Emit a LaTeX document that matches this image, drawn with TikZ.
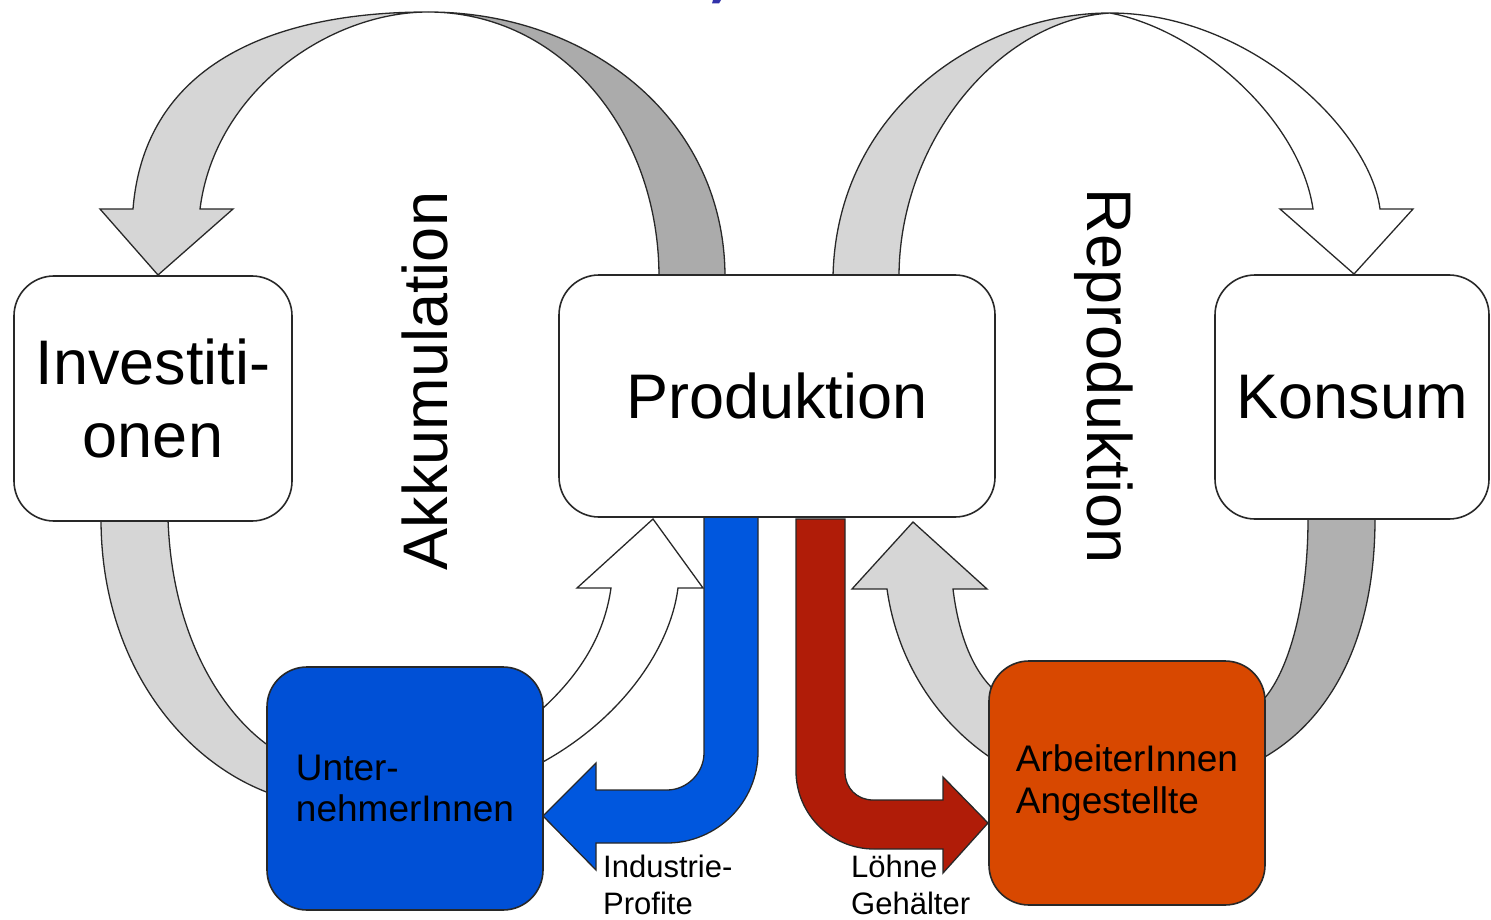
\documentclass[tikz,border=0pt]{standalone}
\usepackage{fontspec}
\setmainfont{Liberation Sans}
\usepackage{tikz}
\usepackage{xcolor}
\definecolor{bandlight}{RGB}{214,214,214}
\definecolor{banddark}{RGB}{171,171,171}
\definecolor{bandmid}{RGB}{176,176,176}
\definecolor{profitblue}{RGB}{0,87,222}
\definecolor{ownerblue}{RGB}{0,80,214}
\definecolor{wagered}{RGB}{176,28,8}
\definecolor{workerorange}{RGB}{216,72,0}
\definecolor{titleblue}{RGB}{50,50,170}
\definecolor{edgegray}{RGB}{40,40,40}
\newcommand{\labelbig}{\fontsize{63}{73}\selectfont}
\newcommand{\labelmid}{\fontsize{37}{41.5}\selectfont}
\newcommand{\labelsmall}{\fontsize{31}{37}\selectfont}

\begin{document}
\begin{tikzpicture}[x=1pt, y=-1pt,
    box/.style={draw=edgegray, line width=1.6, rounded corners=40, inner sep=0, minimum width=276, minimum height=244},
    band/.style={draw=edgegray, line width=1.3, line join=miter}]
  \useasboundingbox (0,0) rectangle (1491,920);
  \fill[titleblue] (713,0) -- (721,0) -- (719,3.5) -- (712,3.5) -- cycle;

  % accumulation loop
  \coordinate (akktop) at (428,12);
  \filldraw[band, fill=banddark] (659,277) .. controls (659,130) and (560,12) .. (akktop)
    .. controls (590,12) and (725,120) .. (725,277) -- cycle;
  \filldraw[band, fill=bandlight] (akktop) .. controls (280,12) and (145,60) .. (133,209)
    -- (100,209) -- (158,275) -- (233,209) -- (200,209)
    .. controls (215,90) and (330,12) .. (akktop) -- cycle;
  \filldraw[band, fill=bandlight] (101,519) .. controls (101,660) and (180,760) .. (269,793)
    -- (269,746) .. controls (225,715) and (172,640) .. (168,519) -- cycle;
  \filldraw[band, fill=white] (541,763) .. controls (620,720) and (670,650) .. (678,588)
    -- (703,588) -- (653,519) -- (577,588) -- (611,588)
    .. controls (605,630) and (585,670) .. (541,710) -- cycle;

  % reproduction loop
  \coordinate (reptop) at (1110,13);
  \filldraw[band, fill=bandlight] (833,277) .. controls (836,110) and (980,13) .. (reptop)
    .. controls (1000,20) and (899,140) .. (899,277) -- cycle;
  \filldraw[band, fill=white] (reptop) .. controls (1250,13) and (1370,130) .. (1380,209)
    -- (1413,209) -- (1354,274) -- (1280,209) -- (1313,209)
    .. controls (1300,120) and (1200,30) .. (reptop) -- cycle;
  \filldraw[band, fill=bandmid] (1375,519) .. controls (1375,640) and (1330,720) .. (1263,758)
    -- (1263,700) .. controls (1290,670) and (1308,600) .. (1308,519) -- cycle;
  \filldraw[band, fill=bandlight] (991,758) .. controls (935,720) and (897,660) .. (887,589)
    -- (852,589) -- (913,522) -- (987,589) -- (953,589)
    .. controls (958,630) and (970,665) .. (991,687) -- cycle;

  % profits and wages
  \filldraw[band, fill=profitblue] (704,515) -- (704,753) .. controls (704,773) and (687,790) .. (667,790)
    -- (596,790) -- (596,763) -- (543,816) -- (596,870) -- (596,843) -- (667,843)
    .. controls (717,843) and (758,802) .. (758,752) -- (758,515) -- cycle;
  \filldraw[band, fill=wagered] (796,519) -- (796,771) .. controls (796,814) and (831,849) .. (874,849)
    -- (943,849) -- (943,873) -- (988,823) -- (943,777) -- (943,800) -- (873,800)
    .. controls (857,800) and (845,788) .. (845,772) -- (845,519) -- cycle;

  \node (invest) [box, fill=white, minimum width=278, minimum height=245, align=center, font=\labelbig] at (153,398.5) {Investiti-\\onen};
  \node (prod) [box, fill=white, minimum width=436, minimum height=242, font=\labelbig] at (777,396) {Produktion};
  \node (konsum) [box, fill=white, minimum width=274, font=\labelbig] at (1352,397) {Konsum};
  \node (unter) [box, fill=ownerblue, minimum height=243, align=left, font=\labelmid] at (405,788.5) {Unter-\\nehmerInnen};
  \node (arbeit) [box, fill=workerorange, align=left, font=\labelmid] at (1127,783) {ArbeiterInnen\\Angestellte};

  \node (akk) [rotate=90, font=\labelbig] at (425,381) {Akkumulation};
  \node (repro) [rotate=-90, font=\labelbig] at (1104,376) {Reproduktion};
  \node (profit) [anchor=north west, inner sep=0, align=left, font=\labelsmall] at (603,855) {Industrie-\\Profite};
  \node (lohn) [anchor=north west, inner sep=0, align=left, font=\labelsmall] at (851,855) {Löhne\\Gehälter};
\end{tikzpicture}
\end{document}
